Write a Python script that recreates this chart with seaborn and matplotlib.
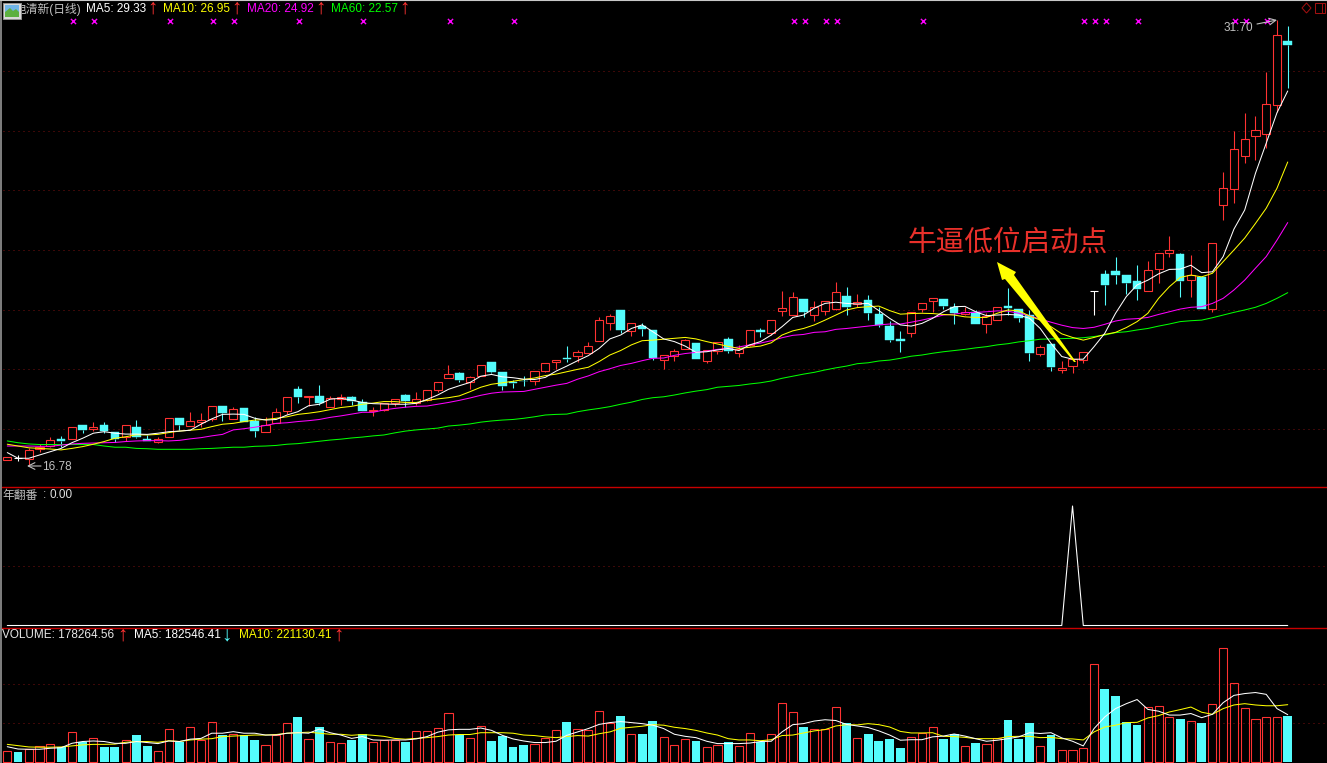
import numpy as np
import pandas as pd
import matplotlib
matplotlib.use('Agg')
import matplotlib.pyplot as plt
from matplotlib.patches import Polygon, Rectangle
import seaborn as sns

# daily candles, 120 sessions
opens = [16.97,17.03,17.01,17.32,17.42,17.68,17.65,18.12,18.01,18.12,
         17.90,17.73,18.06,17.67,17.55,17.74,18.36,18.11,18.25,18.35,
         18.77,18.35,18.69,18.27,17.91,18.21,18.59,19.34,19.08,19.11,
         18.75,18.99,19.07,18.92,18.60,18.64,18.86,19.13,18.86,18.97,
         19.31,19.70,19.87,19.59,19.79,20.23,19.90,19.59,19.62,19.60,
         19.96,20.26,20.39,20.46,20.56,20.96,21.56,21.99,21.30,21.46,
         21.32,20.32,20.44,20.68,20.87,20.29,20.61,21.01,20.56,20.80,
         21.31,21.23,21.94,21.83,22.35,21.83,21.94,22.02,22.46,22.19,
         22.32,21.85,21.46,21.02,21.21,22.02,22.30,22.36,22.10,21.84,
         21.91,21.51,21.66,22.12,22.01,21.82,20.53,20.85,19.99,20.10,
         20.32,22.63,23.20,23.30,23.16,22.96,22.61,23.37,23.91,23.87,
         22.98,23.08,22.01,25.50,26.06,27.16,27.81,27.88,28.85,31.01]
closes = [17.06,17.03,17.29,17.41,17.62,17.61,18.06,17.97,18.08,17.93,
          17.67,18.12,17.74,17.60,17.67,18.36,18.13,18.28,18.29,18.76,
          18.53,18.68,18.25,17.93,18.15,18.58,19.06,19.07,19.11,18.86,
          19.05,19.06,18.95,18.61,18.63,18.88,18.99,18.94,18.99,19.30,
          19.56,19.83,19.64,19.73,20.13,19.92,19.45,19.55,19.60,19.93,
          20.20,20.30,20.36,20.57,20.77,21.64,21.78,21.32,21.54,21.35,
          20.37,20.49,20.60,20.97,20.35,20.64,20.91,20.63,20.67,21.31,
          21.26,21.64,22.05,22.41,21.93,22.09,22.28,22.58,22.10,22.27,
          21.90,21.49,20.98,20.95,21.91,22.21,22.40,22.12,21.88,21.91,
          21.52,21.80,22.08,22.06,21.73,20.56,20.74,20.09,20.05,20.34,
          20.57,22.63,22.84,23.17,22.90,22.70,23.32,23.89,23.99,22.97,
          23.17,22.03,24.22,26.07,27.37,27.71,28.01,28.88,31.20,30.88]
highs = [17.06,17.13,17.35,17.50,17.72,17.77,18.06,18.12,18.24,18.24,
         17.90,18.12,18.30,17.80,17.74,18.36,18.36,18.56,18.54,18.76,
         18.77,18.73,18.69,18.39,18.39,18.70,19.06,19.44,19.11,19.47,
         19.11,19.17,19.11,19.00,18.73,18.88,18.99,19.17,19.24,19.30,
         19.56,20.14,19.92,19.77,20.13,20.23,19.90,19.64,19.77,19.93,
         20.20,20.30,20.78,20.65,20.92,21.74,21.85,21.99,21.54,21.54,
         21.32,20.49,20.67,21.01,20.87,20.64,20.91,21.10,20.82,21.31,
         21.40,21.64,22.63,22.59,22.35,22.28,22.28,22.92,22.75,22.53,
         22.49,22.10,21.62,21.29,21.91,22.21,22.40,22.36,22.21,22.08,
         21.99,21.88,22.08,22.74,22.01,21.99,20.82,20.85,20.28,20.34,
         20.57,22.63,23.33,23.77,23.16,23.50,23.63,23.89,24.47,23.89,
         23.83,23.08,24.22,26.60,27.99,28.58,28.49,29.98,31.70,31.51]
lows = [16.97,16.94,16.78,17.24,17.39,17.41,17.65,17.86,17.94,17.86,
        17.58,17.60,17.71,17.60,17.52,17.74,17.97,18.11,18.08,18.28,
        18.28,18.34,18.25,17.74,17.91,18.21,18.50,18.88,18.77,18.80,
        18.75,18.81,18.81,18.61,18.44,18.61,18.77,18.73,18.81,18.95,
        19.25,19.70,19.57,19.34,19.79,19.88,19.31,19.37,19.44,19.47,
        19.91,20.00,20.25,20.26,20.54,20.96,21.32,21.21,21.12,21.12,
        20.32,20.01,20.28,20.68,20.35,20.21,20.51,20.56,20.41,20.78,
        21.10,21.15,21.80,21.82,21.77,21.62,21.82,21.99,21.82,22.10,
        21.65,21.43,20.93,20.58,21.10,21.93,21.93,22.02,21.52,21.82,
        21.52,21.21,21.65,21.82,21.60,20.29,20.46,19.96,19.88,19.89,
        20.20,21.82,22.16,22.86,22.53,22.32,22.61,22.91,23.78,22.44,
        22.44,22.03,21.93,25.01,25.59,26.93,27.02,27.41,28.64,29.44]

ma5 = [17.21,17.02,17.02,17.13,17.24,17.35,17.54,17.69,17.86,17.91,
       17.86,17.83,17.83,17.82,17.86,17.91,17.93,17.96,18.16,18.34,
       18.49,18.50,18.49,18.36,18.30,18.32,18.47,18.58,18.78,18.83,
       19.00,19.03,18.97,18.89,18.85,18.84,18.83,18.83,18.86,18.99,
       19.14,19.33,19.45,19.56,19.77,19.83,19.75,19.72,19.67,19.66,
       19.73,19.94,20.11,20.29,20.46,20.70,21.02,21.15,21.37,21.49,
       21.26,21.02,20.93,20.78,20.57,20.59,20.65,20.70,20.63,20.82,
       20.93,21.15,21.43,21.74,21.82,22.05,22.21,22.25,22.21,22.19,
       22.21,21.97,21.71,21.49,21.45,21.54,21.71,21.93,22.10,22.11,
       21.93,21.80,21.82,21.84,21.82,21.71,21.37,20.87,20.43,20.34,
       20.34,20.76,21.21,21.88,22.44,22.83,22.99,23.20,23.35,23.36,
       23.49,23.24,23.27,23.78,24.70,25.34,26.57,27.58,28.60,29.33]
ma10 = [17.49,17.43,17.37,17.35,17.33,17.30,17.35,17.41,17.49,17.58,
        17.69,17.74,17.81,17.80,17.82,17.88,17.93,17.96,17.99,18.08,
        18.16,18.19,18.25,18.30,18.32,18.36,18.41,18.49,18.53,18.58,
        18.65,18.72,18.76,18.83,18.87,18.92,18.92,18.89,18.89,18.96,
        19.01,19.05,19.11,19.25,19.40,19.50,19.55,19.60,19.66,19.71,
        19.79,19.84,19.92,20.00,20.07,20.26,20.48,20.63,20.82,20.96,
        20.98,21.01,21.04,21.07,21.02,20.93,20.85,20.77,20.70,20.74,
        20.78,20.89,21.15,21.29,21.37,21.49,21.65,21.82,21.99,22.07,
        22.10,22.12,21.97,21.85,21.87,21.88,21.87,21.84,21.82,21.76,
        21.74,21.74,21.88,21.99,21.96,21.79,21.65,21.43,21.19,21.07,
        20.98,21.07,21.17,21.24,21.40,21.60,21.88,22.38,22.77,23.08,
        23.16,23.10,23.22,23.61,24.00,24.40,24.89,25.40,26.07,26.95]
ma20 = [17.43,17.43,17.43,17.42,17.42,17.46,17.50,17.52,17.53,17.54,
        17.55,17.58,17.60,17.61,17.61,17.60,17.62,17.67,17.71,17.77,
        17.82,17.97,18.01,18.06,18.12,18.19,18.21,18.25,18.28,18.32,
        18.39,18.44,18.50,18.56,18.56,18.64,18.69,18.73,18.76,18.77,
        18.83,18.89,18.96,19.04,19.13,19.20,19.24,19.25,19.26,19.33,
        19.40,19.47,19.53,19.67,19.78,19.92,20.02,20.13,20.20,20.29,
        20.37,20.38,20.47,20.53,20.57,20.61,20.67,20.70,20.75,20.82,
        20.88,20.96,21.06,21.14,21.17,21.24,21.26,21.34,21.37,21.41,
        21.45,21.49,21.52,21.52,21.58,21.65,21.73,21.82,21.85,21.90,
        21.91,21.93,21.96,21.95,21.88,21.80,21.68,21.58,21.48,21.40,
        21.37,21.41,21.51,21.62,21.68,21.70,21.74,21.84,21.93,22.02,
        22.08,22.10,22.21,22.38,22.66,22.99,23.39,23.78,24.33,24.92]
ma60 = [17.60,17.54,17.50,17.48,17.48,17.48,17.48,17.48,17.48,17.43,
        17.39,17.39,17.35,17.34,17.32,17.32,17.32,17.32,17.34,17.35,
        17.37,17.39,17.39,17.42,17.43,17.45,17.49,17.51,17.55,17.59,
        17.63,17.66,17.70,17.73,17.77,17.80,17.87,17.93,17.97,18.00,
        18.03,18.10,18.13,18.17,18.23,18.27,18.30,18.32,18.36,18.41,
        18.47,18.49,18.50,18.58,18.64,18.69,18.75,18.83,18.90,18.99,
        19.05,19.08,19.14,19.21,19.27,19.32,19.40,19.43,19.46,19.51,
        19.55,19.61,19.70,19.77,19.84,19.90,19.98,20.05,20.11,20.19,
        20.22,20.28,20.31,20.37,20.44,20.48,20.54,20.59,20.63,20.67,
        20.72,20.76,20.82,20.86,20.92,20.96,21.01,21.02,21.03,21.04,
        21.06,21.10,21.15,21.23,21.26,21.32,21.37,21.45,21.52,21.60,
        21.63,21.65,21.73,21.82,21.91,21.99,22.08,22.21,22.38,22.57]

# volume in thousands of lots
volume = [41,39,49,63,68,57,115,76,94,58,
          58,84,104,62,41,126,76,134,85,153,
          104,107,104,85,64,104,149,174,88,135,
          76,72,85,107,76,84,85,77,118,118,
          130,188,106,94,140,80,99,57,64,71,
          94,125,153,129,125,198,152,176,109,107,
          157,98,67,90,80,59,67,79,63,113,
          77,109,229,194,134,129,129,214,149,94,
          107,80,88,53,98,113,136,88,107,63,
          72,71,94,161,88,149,63,103,48,48,
          55,380,281,254,153,142,214,217,175,165,
          160,149,225,441,306,210,167,175,175,178.26]
vol_ma5 = [59,50,49,49,53,55,72,79,81,79,
           72,72,79,75,71,81,79,88,91,111,
           111,117,111,111,104,104,111,113,111,127,
           113,104,91,98,85,84,85,85,89,98,
           115,124,126,126,131,122,103,89,81,75,
           75,80,103,116,129,145,152,156,152,148,
           142,129,107,99,94,80,71,71,71,73,
           79,80,116,144,148,158,163,160,145,139,
           133,120,104,84,86,86,97,100,108,100,
           90,80,84,90,97,113,110,113,93,80,
           62,129,174,206,225,241,203,196,181,181,
           187,171,184,229,257,264,268,261,206,182.55]
vol_ma10 = [68,63,58,57,57,58,62,66,68,68,
            69,76,79,79,76,82,79,85,88,90,
            98,100,102,104,104,106,111,113,115,111,
            107,107,103,106,103,99,91,88,91,94,
            98,104,106,106,113,113,113,111,104,102,
            97,94,98,102,100,109,116,130,134,138,
            144,142,134,129,122,112,104,90,85,85,
            82,86,102,104,112,120,125,139,144,143,
            148,144,135,118,112,112,113,99,98,95,
            90,90,90,98,99,99,94,95,90,89,
            85,116,135,142,152,153,170,179,193,202,
            212,192,184,206,220,225,220,217,217,221.13]

signal_day = 99
signal = [1 if d == signal_day else 0 for d in range(120)]
mark_days = [6,8,15,19,21,27,33,41,47,73,74,76,77,85,100,101,102,105,114,115,117]
mark_price = 31.68
price_grid = [18, 20, 22, 24, 26, 28, 30]
signal_grid = [0.5]
volume_grid = [150, 300]

RED = '#ff3232'
CYAN = '#54fcfc'
GRID = '#7a1010'
LINE_W = 0.78
MA_W = 0.74

sns.set_theme(style='dark', rc={'axes.facecolor': 'black', 'figure.facecolor': 'black'})
plt.rcParams['font.family'] = ['Liberation Sans', 'Noto Sans CJK SC', 'DejaVu Sans']

days = np.arange(120)
o = np.array(opens)
c = np.array(closes)
h = np.array(highs)
l = np.array(lows)
df = pd.DataFrame({'day': days, 'ma5': ma5, 'ma10': ma10, 'ma20': ma20, 'ma60': ma60,
                   'signal': signal, 'volume': volume, 'vol_ma5': vol_ma5, 'vol_ma10': vol_ma10})

fig = plt.figure(figsize=(13.27, 7.63), dpi=100)
W, H = 1327, 763
XLIM = (-0.678, 122.65)


def pane(top, bottom, ylim):
    ax = fig.add_axes([0, 1 - bottom / H, 1, (bottom - top) / H])
    ax.set_xlim(*XLIM)
    ax.set_ylim(*ylim)
    return ax


def finish(ax, ylim, grid):
    ax.hlines(grid, -0.4, XLIM[1], colors=GRID, linestyles=(0, (1, 4)), lw=0.72, zorder=1)
    ax.set_xlim(*XLIM)
    ax.set_ylim(*ylim)
    ax.set_axis_off()


# price pane
price_lim = (16.09, 32.38)
ax1 = pane(0, 486, price_lim)
top = np.maximum(o, c)
bot = np.minimum(o, c)
up = c > o
down = c < o
flat = c == o
for mask, col in [(up, RED), (down, CYAN), (flat, 'white')]:
    ax1.vlines(days[mask], top[mask], h[mask], colors=col, lw=LINE_W, zorder=2)
    ax1.vlines(days[mask], l[mask], bot[mask], colors=col, lw=LINE_W, zorder=2)
ax1.bar(days[up], (c - o)[up], bottom=o[up], width=0.76, facecolor='black', edgecolor=RED,
        lw=LINE_W, zorder=3)
ax1.bar(days[down], (o - c)[down], bottom=c[down], width=0.8, facecolor=CYAN, edgecolor=CYAN,
        lw=0.3, zorder=3)
ax1.hlines(c[flat], days[flat] - 0.38, days[flat] + 0.38, colors='white', lw=LINE_W, zorder=3)
for name, col in [('ma60', '#00ff00'), ('ma20', '#ff00ff'), ('ma10', '#ffff00'), ('ma5', 'white')]:
    sns.lineplot(data=df, x='day', y=name, color=col, lw=MA_W, estimator=None, errorbar=None,
                 legend=False, ax=ax1, zorder=4)
sns.scatterplot(x=np.array(mark_days) + 0.1, y=[mark_price] * len(mark_days), marker='x',
                color='#ff00ff', s=14, linewidth=1, legend=False, ax=ax1, zorder=5)
finish(ax1, price_lim, price_grid)

# signal pane
signal_lim = (-0.0125, 1.159)
ax2 = pane(487, 627, signal_lim)
sns.lineplot(data=df, x='day', y='signal', color='white', lw=LINE_W, estimator=None, errorbar=None,
             legend=False, ax=ax2, zorder=3)
finish(ax2, signal_lim, signal_grid)

# volume pane
volume_lim = (-3.9, 517)
ax3 = pane(628, 763, volume_lim)
vol_red = (c > o) | (flat & (c >= np.roll(c, 1)))
sub = df[vol_red]
sns.barplot(x=sub['day'].to_numpy(), y=sub['volume'].to_numpy(), native_scale=True, color=RED, fill=False,
            saturation=1, width=0.76, linewidth=LINE_W, errorbar=None, legend=False, ax=ax3, zorder=2)
sub = df[~vol_red]
sns.barplot(x=sub['day'].to_numpy(), y=sub['volume'].to_numpy(), native_scale=True, color=CYAN,
            saturation=1, width=0.82, linewidth=0, errorbar=None, legend=False, ax=ax3, zorder=2)
for name, col in [('vol_ma10', '#ffff00'), ('vol_ma5', 'white')]:
    sns.lineplot(data=df, x='day', y=name, color=col, lw=MA_W, estimator=None, errorbar=None,
                 legend=False, ax=ax3, zorder=4)
finish(ax3, volume_lim, volume_grid)

# overlay in pixels for the header texts, frame and the hand-drawn note
ov = fig.add_axes([0, 0, 1, 1], facecolor='none')
ov.set_xlim(0, W)
ov.set_ylim(H, 0)
ov.set_axis_off()

ov.plot([0, W], [486.5, 486.5], color='#c80000', lw=1.0, zorder=6)
ov.plot([0, W], [627.5, 627.5], color='#c80000', lw=1.0, zorder=6)
ov.plot([0.5, 0.5], [0, H], color='#808080', lw=1.4, zorder=6)
ov.plot([0, W], [0.3, 0.3], color='#c8c8c8', lw=0.8, zorder=6)


def label(x, y, text, col, size=8.5, **kw):
    ov.text(x, y, text, color=col, fontsize=size, va='center', ha='left', zorder=8, **kw)


def arrow(x, y, text, col):
    ov.text(x, y, text, color=col, fontsize=15, va='center', ha='center', zorder=8, family='Liberation Sans')


label(15, 9, '电清新(日线)', '#c0c0c0')
label(86, 8.5, 'MA5: 29.33', 'white')
arrow(152, 8, '↑', RED)
label(163, 8.5, 'MA10: 26.95', '#ffff00')
arrow(236, 8, '↑', RED)
label(247, 8.5, 'MA20: 24.92', '#ff00ff')
arrow(320, 8, '↑', RED)
label(331, 8.5, 'MA60: 22.57', '#00ff00')
arrow(404, 8, '↑', RED)

label(2, 495.5, '年翻番', '#c0c0c0')
label(43, 495.5, ':', '#c0c0c0')
label(49, 495.5, '0.00', '#e0e0e0')

label(2, 635.5, 'VOLUME: 178264.56', '#e8e8e8')
arrow(122, 635, '↑', RED)
label(134, 635.5, 'MA5: 182546.41', 'white')
arrow(227, 635, '↓', CYAN)
label(239, 635.5, 'MA10: 221130.41', '#ffff00')
arrow(339, 635, '↑', RED)

label(42, 466.5, '16.78', '#c0c0c0')
ov.annotate('', xy=(27, 466), xytext=(41, 466),
            arrowprops=dict(arrowstyle='->', color='#c0c0c0', lw=0.8, shrinkA=0, shrinkB=0), zorder=8)
label(1224, 28, '31.70', '#c0c0c0')
ov.annotate('', xy=(1277, 20), xytext=(1257, 24),
            arrowprops=dict(arrowstyle='->', color='#c0c0c0', lw=0.8, shrinkA=0, shrinkB=0), zorder=8)

# note and its yellow arrow
ov.add_patch(Polygon([(997, 262), (1016, 272), (1014, 275), (1076, 362), (1074, 362), (1005, 279), (1002, 280)],
                     closed=True, facecolor='#ffff00', edgecolor='none', zorder=7))
ov.text(908, 242.5, '牛逼低位启动点', color='#e8302a', fontsize=20.6, family='Noto Sans CJK SC',
        va='center', ha='left', zorder=8)

# small window icon top left
ov.add_patch(Rectangle((3, 3), 18, 16, facecolor='#d8d8d8', edgecolor='#909090', lw=0.7, zorder=9))
ov.add_patch(Rectangle((5, 5), 14, 12, facecolor='#6fb4e8', edgecolor='none', zorder=10))
ov.add_patch(Polygon([(5, 17), (5, 12), (10, 8), (13, 11), (16, 9), (19, 12), (19, 17)],
                     closed=True, facecolor='#5cb040', edgecolor='none', zorder=11))

# top right buttons
ov.add_patch(Polygon([(1306.5, 3), (1311, 8), (1306.5, 13), (1302, 8)], closed=True, facecolor='none',
                     edgecolor='#a01010', lw=0.75, zorder=8))
ov.add_patch(Rectangle((1315, 3), 10, 10, facecolor='none', edgecolor='#a01010', lw=0.75, zorder=8))
ov.plot([1322, 1322], [3, 13], color='#a01010', lw=0.75, zorder=8)

fig.savefig('out.png', dpi=100, facecolor='black')
